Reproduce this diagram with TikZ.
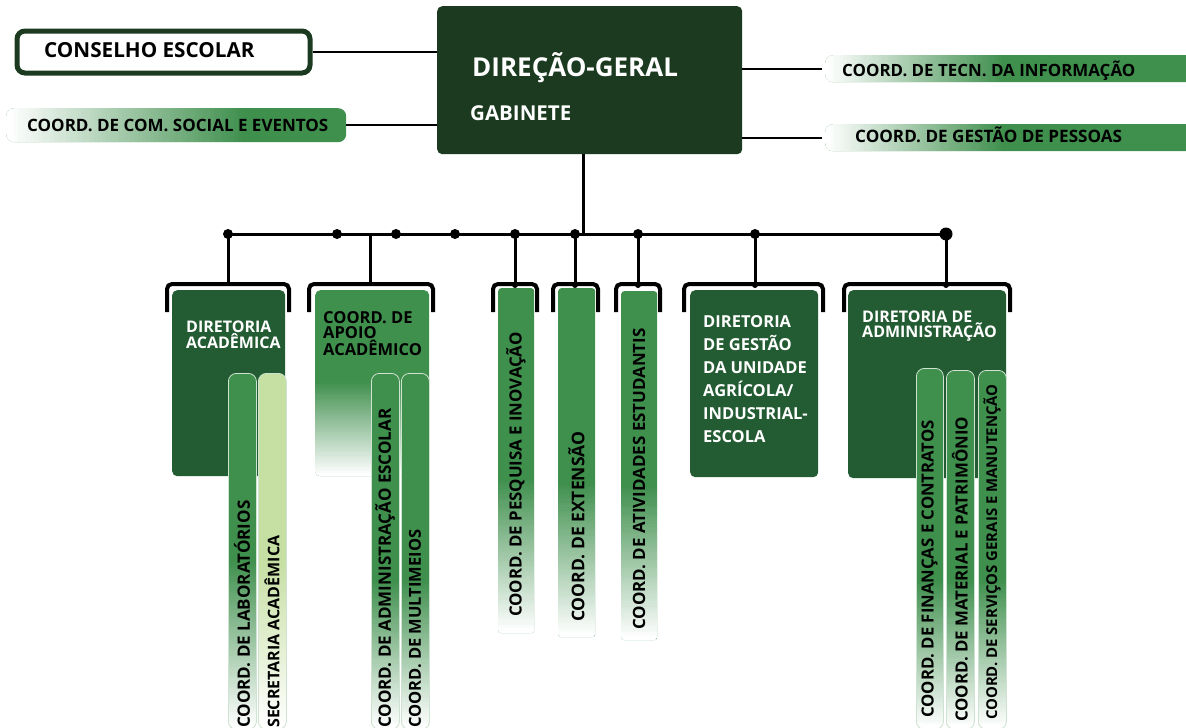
\documentclass[tikz,border=0pt]{standalone}
\usepackage{fontspec}
\setmainfont{Open Sans}
\usetikzlibrary{calc}
\definecolor{dirg}{HTML}{1B3A20}
\definecolor{dgreen}{HTML}{235C32}
\definecolor{mgreen}{HTML}{3F8F4D}
\definecolor{lgreen}{HTML}{C6DFA2}
\newcommand{\fsz}[2]{\fontsize{#1}{#2}\selectfont}
\begin{document}
\begin{tikzpicture}[x=1pt,y=-1pt,
  font=\bfseries,
  wire/.style={line width=3pt,black},
  thinwire/.style={line width=2pt,black},
  bracketline/.style={line width=4pt,black,rounded corners=5pt},
  dot/.style={circle,fill=black,inner sep=0pt,minimum size=#1},
  dot/.default=10pt,
  box/.style={inner sep=0pt,anchor=north west,rounded corners=5pt},
  % white-to-colour ramp over the left #1 of a box, built from thin strips
  hfade/.style={path picture={
    \foreach \i in {0,...,59}{
      \pgfmathtruncatemacro\pct{100*\i/59}
      \fill[sharp corners,mgreen!\pct!white]
        ([xshift=#1*\i/60]path picture bounding box.north west) rectangle
        ([xshift=#1*(\i+1)/60+0.5pt]path picture bounding box.south west);
    }}},
  % colour-to-white ramp over the bottom #2 of a box
  vfade/.style 2 args={path picture={
    \foreach \i in {0,...,59}{
      \pgfmathtruncatemacro\pct{100-100*\i/59}
      \fill[sharp corners,#1!\pct!white]
        ([yshift=#2*(1-\i/60)]path picture bounding box.south west) rectangle
        ([yshift=#2*(1-(\i+1)/60)-0.5pt]path picture bounding box.south east);
    }}},
  subbar/.style={box,rounded corners=8pt,draw=white!75!mgreen,line width=0.8pt},
  label/.style={inner sep=0pt,anchor=north west,align=left},
  vtext/.style={inner sep=0pt,anchor=west,rotate=90,black},
]
\useasboundingbox (0,0) rectangle (1186,728);

% ---------- top level ----------
\node[box,fill=dirg,minimum width=305pt,minimum height=148pt] (dg) at (437,6) {};
\node[inner sep=0pt,anchor=base west,white] (dgt) at (472,76) {\fsz{26}{28}DIREÇÃO-GERAL};
\node[inner sep=0pt,anchor=base west,white] (gab) at (470,120) {\fsz{20.5}{22}GABINETE};

\node[box,fill=white,draw=dirg,line width=5pt,rounded corners=8pt,
      minimum width=293pt,minimum height=42pt] (cons) at (14.5,28.5) {};
\node[inner sep=0pt,anchor=base west] (const) at (44,57) {\fsz{20.7}{22}CONSELHO ESCOLAR};

\node[box,fill=mgreen,rounded corners=8pt,hfade=240pt,
      minimum width=340pt,minimum height=34pt] (com) at (6,108) {};
\node[inner sep=0pt,anchor=base west] (comt) at (27,131) {\fsz{17}{20}COORD. DE COM. SOCIAL E EVENTOS};

\node[box,fill=mgreen,rounded corners=8pt,hfade=180pt,
      minimum width=370pt,minimum height=27pt] (ti) at (825,55) {};
\node[inner sep=0pt,anchor=base west] (tit) at (842,76) {\fsz{16.9}{18}COORD. DE TECN. DA INFORMAÇÃO};

\node[box,fill=mgreen,rounded corners=8pt,hfade=180pt,
      minimum width=370pt,minimum height=27pt] (gp) at (825,124) {};
\node[inner sep=0pt,anchor=base west] (gpt) at (855,142) {\fsz{17.1}{18}COORD. DE GESTÃO DE PESSOAS};

\draw[thinwire] (cons.east) -- (cons.east -| dg.west);
\draw[thinwire] (com.east) -- (com.east -| dg.west);
\draw[thinwire] (ti.west -| dg.east) -- ([xshift=-3pt]ti.west);
\draw[thinwire] (gp.west -| dg.east) -- ([xshift=-3pt]gp.west);

% ---------- bus ----------
\coordinate (dgout) at (583,154);
\coordinate (hub) at (583,234);
\coordinate (busL) at (228,234);
\coordinate (busR) at (946,234);
\draw[wire] (dgout) -- (hub);
\draw[wire] (busL) -- (busR);
\foreach \x in {228,337,396,455,515,575,638,755}
  \node[dot] at (\x,234) {};
\node[dot=13pt] at (946,234) {};

% brackets above the units
\foreach \xa/\xb/\xm/\name in {167/289/228/acad, 309/433/370/apoio, 493/537/515/pesq,
    553/598/575/ext, 616/660/638/ativ, 684/823/755/gest, 844/1010/946/adm}{
  \draw[bracketline] (\xa,312) -- (\xa,284) -- (\xb,284) -- (\xb,312);
  \coordinate (\name top) at (\xm,284);
  \draw[wire] (\xm,234) -- (\name top);
}
\foreach \x in {515,575,638,755,946}
  \node[dot=6pt] at (\x,285) {};

% ---------- Diretoria Acadêmica ----------
\node[box,fill=dgreen,minimum width=113pt,minimum height=186pt] (acad) at (172,290) {};
\node[label,white,font=\bfseries\fsz{16}{15}] (acadt) at (186,321) {DIRETORIA\\ACADÊMICA};
\node[subbar,fill=mgreen,vfade={mgreen}{170pt},minimum width=28pt,minimum height=356pt] (lab) at (228,373) {};
\node[subbar,fill=lgreen,vfade={lgreen}{170pt},minimum width=28pt,minimum height=356pt] (sec) at (258,373) {};
\node[vtext] at (242,728) {\fsz{17}{18}COORD. DE LABORATÓRIOS};
\node[vtext] at (272,728) {\fsz{16}{18}SECRETARIA ACADÊMICA};

% ---------- Coord. de Apoio Acadêmico ----------
\node[box,fill=mgreen,vfade={mgreen}{95pt},minimum width=114pt,minimum height=186pt] (apoio) at (315,290) {};
\node[label,black,font=\bfseries\fsz{16.5}{15.5}] (apoiot) at (323,311) {COORD. DE\\APOIO\\ACADÊMICO};
\node[subbar,fill=mgreen,vfade={mgreen}{150pt},minimum width=28pt,minimum height=356pt] (admesc) at (371,373) {};
\node[subbar,fill=mgreen,vfade={mgreen}{150pt},minimum width=28pt,minimum height=356pt] (multi) at (401,373) {};
\node[vtext] at (385,728) {\fsz{17}{18}COORD. DE ADMINISTRAÇÃO ESCOLAR};
\node[vtext] at (415,728) {\fsz{16.5}{18}COORD. DE MULTIMEIOS};

% ---------- single coordinations ----------
\node[box,rounded corners=3pt,fill=mgreen,vfade={mgreen}{155pt},minimum width=36pt,minimum height=345pt] (pesq) at (498,288) {};
\node[box,rounded corners=3pt,fill=mgreen,vfade={mgreen}{155pt},minimum width=37pt,minimum height=349pt] (ext) at (558,288) {};
\node[box,rounded corners=3pt,fill=mgreen,vfade={mgreen}{155pt},minimum width=36pt,minimum height=349pt] (ativ) at (621,291) {};
\node[vtext] at (516,617) {\fsz{16.8}{18}COORD. DE PESQUISA E INOVAÇÃO};
\node[vtext] at (576.5,622) {\fsz{17.5}{18}COORD. DE EXTENSÃO};
\node[vtext] at (639,630) {\fsz{16.9}{18}COORD. DE ATIVIDADES ESTUDANTIS};

% ---------- Diretoria de Gestão ----------
\node[box,fill=dgreen,minimum width=128pt,minimum height=187pt] (gest) at (690,290) {};
\node[label,white,font=\bfseries\fsz{16.5}{23}] (gestt) at (703,315) {DIRETORIA\\DE GESTÃO\\DA UNIDADE\\AGRÍCOLA/\\INDUSTRIAL-\\ESCOLA};

% ---------- Diretoria de Administração ----------
\node[box,fill=dgreen,minimum width=158pt,minimum height=188pt] (adm) at (848,290) {};
\node[label,white,font=\bfseries\fsz{16}{15}] (admt) at (862,311) {DIRETORIA DE\\ADMINISTRAÇÃO};
\node[subbar,fill=mgreen,vfade={mgreen}{150pt},minimum width=27pt,minimum height=361pt] (fin) at (916,368) {};
\node[subbar,fill=mgreen,vfade={mgreen}{150pt},minimum width=28pt,minimum height=359pt] (mat) at (946,370) {};
\node[subbar,fill=mgreen,vfade={mgreen}{150pt},minimum width=28pt,minimum height=359pt] (serv) at (978,370) {};
\node[vtext] at (929.5,718) {\fsz{16.7}{18}COORD. DE FINANÇAS E CONTRATOS};
\node[vtext] at (960,722) {\fsz{16.8}{18}COORD. DE MATERIAL E PATRIMÔNIO};
\node[vtext] at (992,720) {\fsz{14.9}{18}COORD. DE SERVIÇOS GERAIS E MANUTENÇÃO};
\end{tikzpicture}
\end{document}
